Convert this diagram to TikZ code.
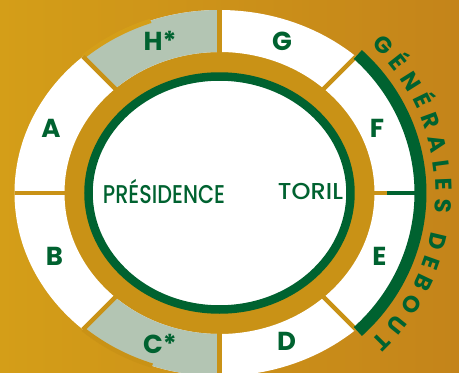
\documentclass[tikz,border=0pt]{standalone}
\usepackage{fontspec}
\usepackage{graphicx}
\usetikzlibrary{decorations.text}
\newfontfamily\popfont{Poppins}
\IfFontExistsTF{Poppins Medium}{\newfontfamily\semifont{Poppins Medium}}{\newfontfamily\semifont{Poppins}}
\definecolor{ggreen}{RGB}{0,98,48}
\definecolor{gold}{RGB}{201,146,22}
\definecolor{goldL}{RGB}{212,158,24}
\definecolor{goldR}{RGB}{196,132,26}
\definecolor{sage}{RGB}{179,197,179}
\begin{document}
\begin{tikzpicture}[x=1pt,y=1pt,
  seg/.style={font=\popfont\bfseries\fontsize{26}{30}\selectfont, text=ggreen, anchor=base, inner sep=0pt},
  centre/.style={text=ggreen, anchor=base, inner sep=0pt},
  divider/.style={draw=gold, line width=4.5pt},
  annulus/.style={even odd rule}
]
\useasboundingbox (-219.5,-180) rectangle (239.5,193);
\shade[left color=goldL, right color=goldR] (-219.5,-180) rectangle (239.5,193);
% gold band
\fill[gold] (0,0) ellipse[x radius=160, y radius=146];
% ring
\fill[white, annulus] (0,0) ellipse[x radius=205, y radius=183] (0,0) ellipse[x radius=155, y radius=141];
% sage segments
\begin{scope}
  \clip (0,0) -- (90:330) -- (135:330) -- cycle;
  \fill[sage, annulus] (0,0) ellipse[x radius=205, y radius=183] (0,0) ellipse[x radius=155, y radius=141];
\end{scope}
\begin{scope}
  \clip (0,0) -- (225:330) -- (270:330) -- cycle;
  \fill[sage, annulus] (0,0) ellipse[x radius=205, y radius=183] (0,0) ellipse[x radius=155, y radius=141];
\end{scope}
% small steps on the sage segments
\begin{scope}
  \clip (0,0) -- (111.8:330) -- (135:330) -- cycle;
  \fill[goldL, annulus] (0,0) ellipse[x radius=207, y radius=185] (0,0) ellipse[x radius=202.5, y radius=180.5];
\end{scope}
\begin{scope}
  \clip (0,0) -- (225:330) -- (248.7:330) -- cycle;
  \fill[gold, annulus] (0,0) ellipse[x radius=207, y radius=185] (0,0) ellipse[x radius=202.5, y radius=180.5];
\end{scope}
% dividers, kept inside the ring
\begin{scope}
  \clip (0,0) ellipse[x radius=205, y radius=183];
  \foreach \a in {0,45,...,315} \draw[divider] (\a:136) -- (\a:209);
\end{scope}
% inner circle
\draw[ggreen, line width=8.5pt, fill=white] (0,0) ellipse[x radius=131, y radius=116.5];
% green arc
\draw[ggreen, line width=12pt] (46.5:201 and 191) arc[start angle=46.5, end angle=-46.5, x radius=201, y radius=191];
\draw[ggreen, line width=4pt] (168,0) -- (197,0);
% arc text
\path[decorate, decoration={text along path,
   text={|\popfont\bfseries\fontsize{23}{27}\selectfont|GÉNÉRALES DEBOUT},
   text color=ggreen, text align=fit to path}]
   (45.5:216 and 208) arc[start angle=45.5, end angle=-45.5, x radius=216, y radius=208];
% segment labels
\node[seg] (lH) at (-59.5,143) {H*};
\node[seg] (lG) at (62.5,143) {G};
\node[seg] (lA) at (-168.5,56) {A};
\node[seg] (lF) at (157.5,56) {F};
\node[seg] (lB) at (-165,-72) {B};
\node[seg] (lE) at (160,-72) {E};
\node[seg] (lC) at (-59.5,-160) {C*};
\node[seg] (lD) at (67,-157) {D};
% centre labels
\node[centre] (pres) at (-55.5,-10) {\resizebox{122pt}{\height}{\semifont\fontsize{25.7}{30}\selectfont PRÉSIDENCE}};
\node[centre] (toril) at (91,-6) {\resizebox{65pt}{\height}{\semifont\fontsize{23}{27}\selectfont TORIL}};
\end{tikzpicture}
\end{document}
